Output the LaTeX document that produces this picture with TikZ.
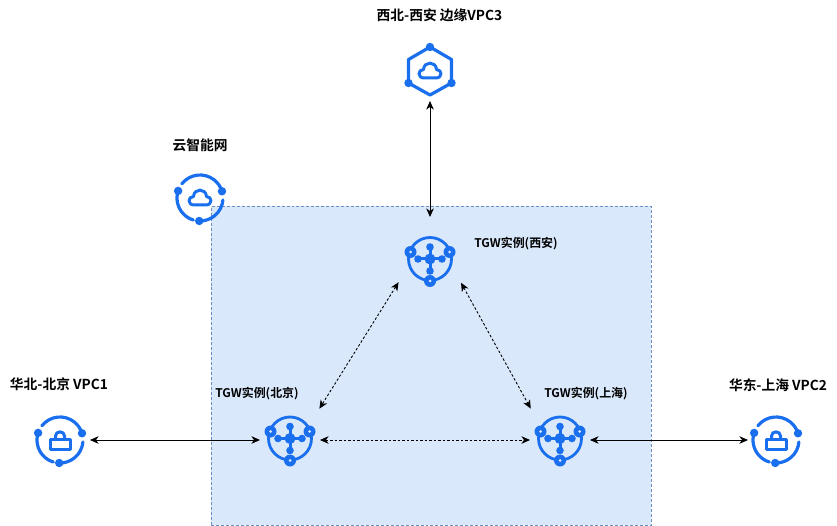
\documentclass[tikz,border=0pt]{standalone}
\usepackage{fontspec}
\setmainfont{Noto Sans CJK SC}[BoldFont={Noto Sans CJK SC Bold}]
\usetikzlibrary{arrows.meta}
\definecolor{iconblue}{HTML}{1A6FEE}
\definecolor{zonefill}{HTML}{DAE8FC}
\definecolor{zoneline}{HTML}{6C8EBF}
\tikzset{
  x=1bp,y=-1bp,
  zone/.style={draw=zoneline,fill=zonefill,densely dashed,line width=.6bp},
  anchorbox/.style={circle,minimum size=60bp,inner sep=0pt,outer sep=0pt},
  hubbox/.style={circle,minimum size=80bp,inner sep=0pt,outer sep=0pt},
  iconline/.style={draw=iconblue,line width=3.2bp,line cap=round,line join=round},
  thinicon/.style={draw=iconblue,line width=3bp,line cap=round,line join=round},
  icondot/.style={fill=iconblue},
  solidlink/.style={{Stealth[length=8.5bp,width=7.5bp,inset=2.5bp]}-{Stealth[length=8.5bp,width=7.5bp,inset=2.5bp]},line width=.9bp,black},
  dashlink/.style={solidlink,dash pattern=on 2.5bp off 2bp},
  lab/.style={font=\bfseries\fontsize{13.8}{16}\selectfont,inner sep=0pt,black},
  smalllab/.style={font=\bfseries\fontsize{12}{14}\selectfont,inner sep=0pt,black},
  pics/cloudshape/.style={code={
    \draw[thinicon]
      (-6,7) -- (6,7)
      .. controls (12.5,7) and (12.5,-1.5) .. (6.5,-1.5)
      .. controls (6,-10) and (-6,-10) .. (-6.5,-1.5)
      .. controls (-12.5,-1.5) and (-12.5,7) .. (-6,7) -- cycle;
  }},
  pics/ringshape/.style={code={
    \begin{scope}[y=1bp]
    \draw[iconline] (142:23) arc[start angle=142,end angle=17,radius=23bp];
    \draw[iconline] (-5:23) arc[start angle=-5,end angle=-92,radius=23bp];
    \draw[iconline] (162:23) arc[start angle=162,end angle=253,radius=23bp];
    \fill[icondot] (162:23) circle[radius=4.2];
    \fill[icondot] (17:23) circle[radius=4.2];
    \fill[icondot] (-92:23) circle[radius=4.2];
    \end{scope}
  }},
  pics/lockshape/.style={code={
    \draw[thinicon] (-10,-1) rectangle (10,9.5);
    \draw[thinicon] (-4.5,-1) -- (-4.5,-4) .. controls (-4.5,-9.5) and (4.5,-9.5) .. (4.5,-4) -- (4.5,-1);
  }},
  pics/tgwshape/.style={code={
    \draw[iconline,line width=2.8bp] (0,0) circle[radius=21.5];
    \foreach \dx/\dy in {-12/0,12/0,0/-12,0/12}{
      \draw[iconblue,line width=3bp] (0,0) -- (\dx,\dy);
      \fill[icondot] (\dx,\dy) circle[radius=3.8];
    }
    \fill[icondot] (0,0) circle[radius=5.5];
    \foreach \dx/\dy in {-19.5/-7,19.5/-7,0/22}{
      \fill[icondot] (\dx,\dy) circle[radius=6];
      \fill[zonefill] (\dx,\dy) circle[radius=1.5];
    }
  }},
  pics/hexshape/.style={code={
    \draw[iconline] (0,-24) -- (21.5,-11.5) -- (21.5,12) -- (0,24) -- (-21.5,12) -- (-21.5,-11.5) -- cycle;
    \fill[icondot] (0,-24) circle[radius=4.2];
    \fill[icondot] (-21.5,12) circle[radius=4.2];
    \fill[icondot] (21.5,12) circle[radius=4.2];
  }},
}
\begin{document}
\begin{tikzpicture}
\useasboundingbox (0,0) rectangle (837,526);
\fill[white] (0,0) rectangle (837,526);
\node[zone,minimum width=440bp,minimum height=319bp,inner sep=0pt,anchor=north west] (region) at (211,206) {};

\node[anchorbox] (vpcthree) at (430,71) {};
\pic at (vpcthree) {hexshape};
\pic at (vpcthree) {cloudshape};

\node[anchorbox] (cen) at (200,198) {};
\pic at (cen) {ringshape};
\pic at (cen) {cloudshape};

\node[anchorbox] (vpcone) at (60,440) {};
\pic at (vpcone) {ringshape};
\pic at (vpcone) {lockshape};

\node[anchorbox] (vpctwo) at (776,440) {};
\pic at (vpctwo) {ringshape};
\pic at (vpctwo) {lockshape};

\node[hubbox] (tgwxa) at (430,259) {};
\pic at (tgwxa) {tgwshape};
\node[hubbox] (tgwbj) at (290,440) {};
\pic[yshift=1.5bp] at (tgwbj) {tgwshape};
\node[hubbox] (tgwsh) at (560,440) {};
\pic[yshift=1.5bp] at (tgwsh) {tgwshape};

\draw[solidlink,shorten >=2bp] (vpcthree.south) -- (tgwxa.north);
\draw[solidlink,shorten >=-10bp] (vpcone.east) -- (tgwbj.west);
\draw[solidlink,shorten <=-10bp,shorten >=-2bp] (tgwsh.east) -- (vpctwo.west);
\draw[dashlink,shorten <=-10bp,shorten >=-10bp] (tgwbj.east) -- (tgwsh.west);
\draw[dashlink,shorten <=-1bp,shorten >=3bp] (tgwxa.217.5) -- (tgwbj.46);
\draw[dashlink,shorten <=-1bp,shorten >=3bp] (tgwxa.322.5) -- (tgwsh.134);

\node[lab] (t1) at (439.5,15) {西北-西安 边缘VPC3};
\node[lab] (t2) at (200,145) {云智能网};
\node[smalllab] (t3) at (516,244) {TGW实例(西安)};
\node[smalllab] (t4) at (257,394) {TGW实例(北京)};
\node[smalllab] (t5) at (586,394) {TGW实例(上海)};
\node[lab] (t6) at (59,384) {华北-北京 VPC1};
\node[lab] (t7) at (778,385) {华东-上海 VPC2};
\end{tikzpicture}
\end{document}
